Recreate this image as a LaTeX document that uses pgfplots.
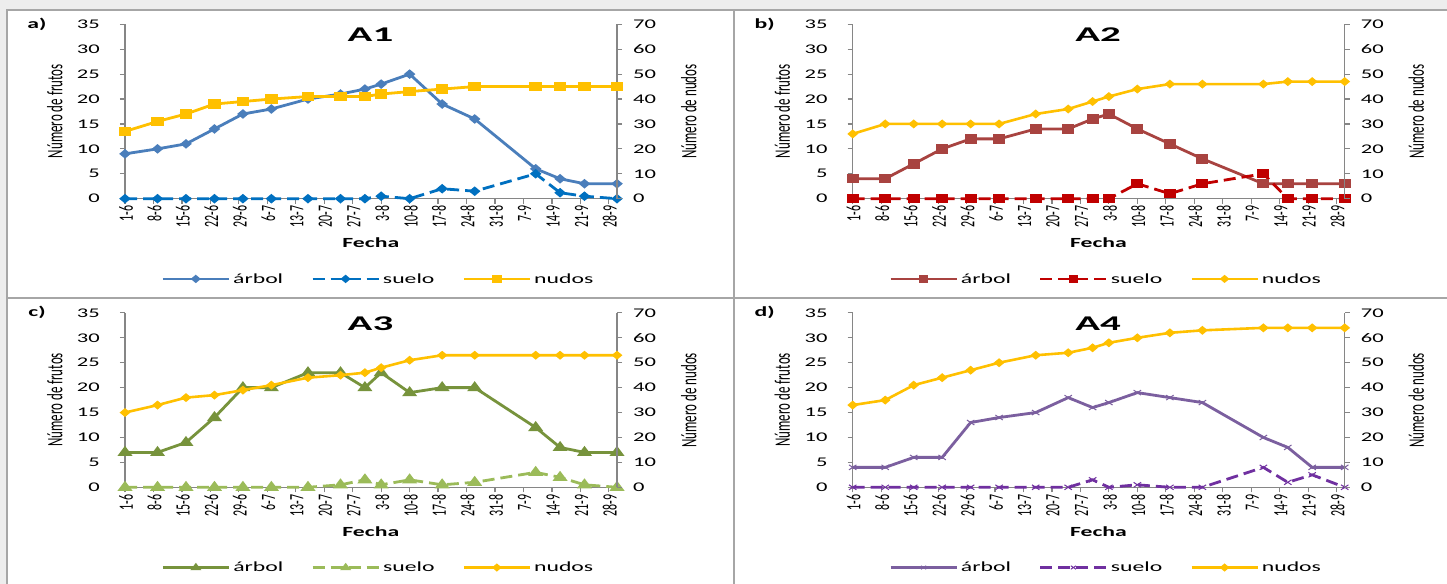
\documentclass[border=0pt]{standalone}
\usepackage{fontspec}
\setmainfont{Carlito}[FakeStretch=1.7]
\newfontfamily\rotfont{Carlito}
\usepackage{graphicx}
\usepackage{pgfplots}
\pgfplotsset{compat=1.18}
\usepackage{pgfplotstable}

\definecolor{bggray}{HTML}{EDEDED}
\definecolor{panelline}{HTML}{A6A6A6}
\definecolor{axgray}{HTML}{868686}
\definecolor{c1arb}{HTML}{4A7EBB}
\definecolor{c1sue}{HTML}{0070C0}
\definecolor{cyel}{HTML}{FFC000}
\definecolor{c2arb}{HTML}{A84340}
\definecolor{c2sue}{HTML}{C00000}
\definecolor{c3arb}{HTML}{77933C}
\definecolor{c3sue}{HTML}{9BBB59}
\definecolor{c4arb}{HTML}{7B5F9F}
\definecolor{c4sue}{HTML}{7030A0}

\pgfplotstableread{
d a s n
0 9 0 27
8 10 0 31
15 11 0 34
22 14 0 38
29 17 0 39
36 18 0 40
45 20 0 41
53 21 0 41
59 22 0 41
63 23 0.5 42
70 25 0 43
78 19 2 44
86 16 1.5 45
101 6 5 45
107 4 1.2 45
113 3 0.5 45
121 3 0 45
}\Aone
\pgfplotstableread{
d a s n
0 4 0 26
8 4 0 30
15 7 0 30
22 10 0 30
29 12 0 30
36 12 0 30
45 14 0 34
53 14 0 36
59 16 0 39
63 17 0 41
70 14 3 44
78 11 1 46
86 8 3 46
101 3 5 46
107 3 0 47
113 3 0 47
121 3 0 47
}\Atwo
\pgfplotstableread{
d a s n
0 7 0 30
8 7 0 33
15 9 0 36
22 14 0 37
29 20 0 39
36 20 0 41
45 23 0 44
53 23 0.5 45
59 20 1.5 46
63 23 0.5 48
70 19 1.5 51
78 20 0.5 53
86 20 1 53
101 12 3 53
107 8 2 53
113 7 0.5 53
121 7 0 53
}\Athree
\pgfplotstableread{
d a s n
0 4 0 33
8 4 0 35
15 6 0 41
22 6 0 44
29 13 0 47
36 14 0 50
45 15 0 53
53 18 0 54
59 16 1.5 56
63 17 0 58
70 19 0.5 60
78 18 0 62
86 17 0 63
101 10 4 64
107 8 1 64
113 4 2.5 64
121 4 0 64
}\Afour

\newcommand{\xl}[1]{\scalebox{1.7}[1]{\rotatebox{90}{\rotfont\fontsize{12}{12}\selectfont #1}}}
\newcommand{\rl}[1]{\scalebox{1.7}[1]{\rotatebox{90}{\rotfont\fontsize{13}{13}\selectfont #1}}}

\tikzset{
 arb1/.style={color=c1arb, line width=2.8bp, mark=diamond*, mark size=3bp, mark options={solid, xscale=1.6}},
 sue1/.style={color=c1sue, line width=2.8bp, dash pattern=on 12bp off 6bp, mark=diamond*, mark size=3bp, mark options={solid, xscale=1.6}},
 nud1/.style={color=cyel, line width=2.8bp, mark=square*, mark size=3.5bp, mark options={solid, xscale=1.4}},
 arb2/.style={color=c2arb, line width=2.8bp, mark=square*, mark size=3.3bp, mark options={solid, xscale=1.4}},
 sue2/.style={color=c2sue, line width=2.8bp, dash pattern=on 12bp off 6bp, mark=square*, mark size=3.3bp, mark options={solid, xscale=1.4}},
 nudd/.style={color=cyel, line width=2.6bp, mark=diamond*, mark size=2.8bp, mark options={solid, xscale=1.6}},
 arb3/.style={color=c3arb, line width=2.8bp, mark=triangle*, mark size=4.2bp, mark options={solid, xscale=1.3}},
 sue3/.style={color=c3sue, line width=2.8bp, dash pattern=on 12bp off 6bp, mark=triangle*, mark size=4.2bp, mark options={solid, xscale=1.3}},
 arb4/.style={color=c4arb, line width=2.8bp, mark=x, mark size=3.5bp, mark options={solid, xscale=1.5, line width=1bp}},
 sue4/.style={color=c4sue, line width=2.8bp, dash pattern=on 12bp off 6bp, mark=x, mark size=3.5bp, mark options={solid, xscale=1.5, line width=1bp}},
}

\pgfplotsset{
 /pgf/number format/assume math mode=true,
 base/.style={scale only axis, width=492bp, height=174.4bp, xmin=0, xmax=121, ymin=0,
   anchor=south west, clip=false,
   axis line style={draw=axgray, line width=1.2bp},
   every tick/.style={draw=axgray, line width=1.2bp},
   major tick length=5bp,
   ticklabel style={font=\fontsize{13.3}{14}\selectfont, text=black}},
 leftax/.style={base, ymax=35, ytick={0,5,...,35},
   axis x line*=bottom, axis y line*=left, tick align=outside,
   xtick={0,7,...,119},
   xticklabels={\xl{1-6},\xl{8-6},\xl{15-6},\xl{22-6},\xl{29-6},\xl{6-7},\xl{13-7},\xl{20-7},\xl{27-7},\xl{3-8},\xl{10-8},\xl{17-8},\xl{24-8},\xl{31-8},\xl{7-9},\xl{14-9},\xl{21-9},\xl{28-9}},
   xticklabel style={anchor=north, inner sep=0pt, yshift=-2bp, xshift=1bp},
   yticklabel style={anchor=east, inner sep=0pt, xshift=-20bp}},
 rightax/.style={base, ymax=70, ytick={0,10,...,70},
   hide x axis, axis y line*=right, tick align=outside,
   yticklabel style={anchor=west, inner sep=0pt, xshift=11bp},
   legend columns=3,
   legend style={at={(0.515,-0.46)}, anchor=center, draw=none, fill=none,
     font=\fontsize{14}{14}\selectfont, column sep=1bp,
     /tikz/every even column/.append style={column sep=26bp}},
   legend image code/.code={\draw[##1, mark repeat=2, mark phase=2, mark size=2.4bp] plot coordinates {(0bp,0bp) (33bp,0bp) (66bp,0bp)};}},
}

\newcommand{\panel}[8]{%
\node[font=\bfseries\fontsize{14}{14}\selectfont, inner sep=0pt] at ({37+#1},{560+#2}) {#3};
\node[font=\bfseries\fontsize{21}{21}\selectfont, inner sep=0pt] at ({370.5+#1},{549+#2}) {\scalebox{1.15}[1]{#4}};
\node[font=\bfseries\fontsize{14}{14}\selectfont, inner sep=0pt] at ({370.8+#1},{341.2+#2}) {Fecha};
\node[inner sep=0pt] at ({54.7+#1},{472.7+#2}) {\rl{Número de frutos}};
\node[inner sep=0pt] at ({688.7+#1},{472.3+#2}) {\rl{Número de nudos}};
\begin{axis}[leftax, at={({(125+#1)*1bp},{(385.3+#2)*1bp})}]
\addplot[#6] table[x=d,y=a]{#5};
\addplot[#7] table[x=d,y=s]{#5};
\end{axis}
\begin{axis}[rightax, at={({(125+#1)*1bp},{(385.3+#2)*1bp})}]
\addlegendimage{#6}\addlegendentry{árbol}
\addlegendimage{#7}\addlegendentry{suelo}
\addplot[#8] table[x=d,y=n]{#5};
\addlegendentry{nudos}
\end{axis}
}

\begin{document}
\begin{tikzpicture}[x=1bp,y=1bp]
\path[use as bounding box] (0,0) rectangle (1447,584);
\fill[bggray] (0,0) rectangle (1447,584);
\draw[panelline, line width=1.5bp, fill=white] (7,286) rectangle (734,574);
\draw[panelline, line width=1.5bp, fill=white] (734,286) rectangle (1452,574);
\draw[panelline, line width=1.5bp, fill=white] (7,-6) rectangle (734,286);
\draw[panelline, line width=1.5bp, fill=white] (734,-6) rectangle (1452,286);
\draw[panelline, line width=2.5bp] (734,-6) -- (734,574);
\panel{0}{0}{a)}{A1}{\Aone}{arb1}{sue1}{nud1}
\panel{727.7}{0}{b)}{A2}{\Atwo}{arb2}{sue2}{nudd}
\panel{0}{-288.6}{c)}{A3}{\Athree}{arb3}{sue3}{nudd}
\panel{727.7}{-288.6}{d)}{A4}{\Afour}{arb4}{sue4}{nudd}
\end{tikzpicture}
\end{document}
